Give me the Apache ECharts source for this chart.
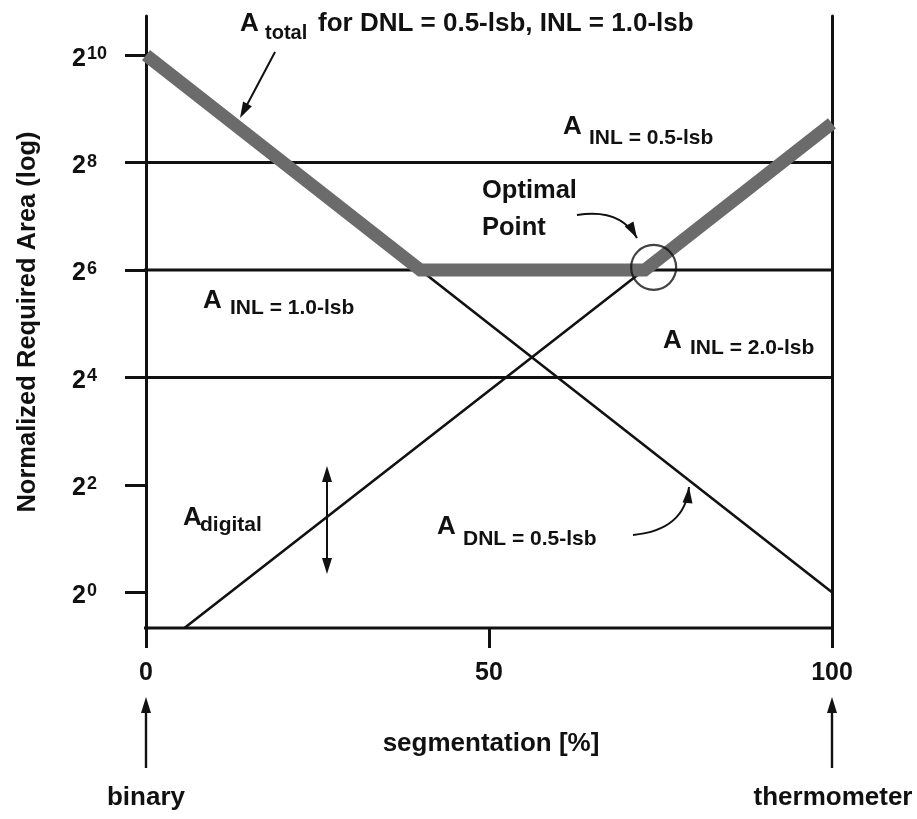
<!DOCTYPE html>
<html>
<head>
<meta charset="utf-8">
<script src="https://cdn.jsdelivr.net/npm/echarts@6/dist/echarts.min.js"></script>
<style>
  html, body { margin: 0; padding: 0; background: #fff; }
  #chart { width: 917px; height: 819px; }
</style>
</head>
<body>
<div id="chart"></div>
<script>
// Segmentation axis (%) and log2 area exponents shown on the axes
const xTicks = [0, 50, 100];
const yTickExponents = [0, 2, 4, 6, 8, 10];
const axisFloor = -0.665;   // exponent of the plot baseline
const axisCeil = 10.73;     // exponent at the top of the frame

// Area needed for a given INL spec (log2 exponent), one level per spec
const inlLevels = [8, 6, 4];
// Area set by DNL = 0.5 lsb: falls linearly from binary to thermometer
const dnlLine = [[0, 10], [100, 0]];
// Digital decoder area, grows with segmentation
const digitalLine = [[5.6, -0.665], [100, 8.73]];
// Total area for DNL = 0.5 lsb, INL = 1.0 lsb
const totalLine = [[0, 10], [40, 6], [72.7, 6], [100, 8.73]];
// Optimal segmentation
const optimalPoint = [74, 6.05];

const FONT = 'Liberation Sans, Arial, Helvetica, sans-serif';
const INK = '#111';
const chart = echarts.init(document.getElementById('chart'), null, { renderer: 'canvas' });

const thin = { color: INK, width: 3 };

const series = [];
// Horizontal INL levels, starting at the tick marks left of the frame
inlLevels.forEach(v => {
  series.push({
    type: 'line', data: [[-3.06, v], [100, v]], symbol: 'none', clip: false,
    lineStyle: thin, silent: true, z: 2
  });
});
// Plot baseline
series.push({
  type: 'line', data: [[-3.06, axisFloor], [100, axisFloor]], symbol: 'none', clip: false,
  lineStyle: thin, silent: true, z: 2
});
series.push({ type: 'line', data: dnlLine, symbol: 'none', clip: false, lineStyle: { color: INK, width: 2.6 }, z: 2 });
series.push({ type: 'line', data: digitalLine, symbol: 'none', clip: false, lineStyle: { color: INK, width: 2.6 }, z: 2 });
series.push({
  type: 'line', data: totalLine, symbol: 'none', clip: false,
  lineStyle: { color: '#6b6b6b', width: 13, cap: 'butt', join: 'miter' }, z: 3
});
series.push({
  type: 'scatter', data: [optimalPoint], symbol: 'circle', symbolSize: 45, clip: false,
  itemStyle: { color: 'rgba(0,0,0,0)', borderColor: INK, borderWidth: 2.2 }, z: 4, silent: true
});

// ---- annotation helpers ----
function txt(x, y, text, size, align) {
  return {
    type: 'text', x, y, z: 10,
    style: { text, fill: INK, font: `bold ${size}px ${FONT}`, align: align || 'left', verticalAlign: 'middle' }
  };
}
function head(tx, ty, dx, dy, len, half) {
  const n = Math.hypot(dx, dy); const ux = dx / n, uy = dy / n;
  const bx = tx - ux * len, by = ty - uy * len;
  return {
    type: 'polygon', z: 10,
    shape: { points: [[tx, ty], [bx - uy * half, by + ux * half], [bx + uy * half, by - ux * half]] },
    style: { fill: INK }
  };
}
function straightArrow(x1, y1, x2, y2, w) {
  const n = Math.hypot(x2 - x1, y2 - y1);
  const ex = x2 - (x2 - x1) / n * 8, ey = y2 - (y2 - y1) / n * 8;
  return [
    { type: 'line', z: 10, shape: { x1, y1, x2: ex, y2: ey }, style: { stroke: INK, lineWidth: w || 2 } },
    head(x2, y2, x2 - x1, y2 - y1, 16, 5)
  ];
}
function curvedArrow(x1, y1, cx, cy, x2, y2) {
  return [
    { type: 'bezierCurve', z: 10, shape: { x1, y1, cpx1: cx, cpy1: cy, x2, y2 }, style: { stroke: INK, lineWidth: 2, fill: 'none' } },
    head(x2, y2, x2 - cx, y2 - cy, 16, 5)
  ];
}

const graphic = [
  // headline label and its pointer
  txt(240, 24, 'A', 26), txt(265, 33, 'total', 20), txt(318, 24, 'for DNL = 0.5-lsb, INL = 1.0-lsb', 26),
  ...straightArrow(275, 52, 240, 118),
  // INL levels
  txt(563, 127, 'A', 26), txt(589, 138, 'INL = 0.5-lsb', 21),
  txt(203, 301, 'A', 26), txt(230, 308, 'INL = 1.0-lsb', 21),
  txt(663, 341, 'A', 26), txt(690, 348, 'INL = 2.0-lsb', 21),
  // digital area with its span arrow
  txt(183, 518, 'A', 26), txt(200, 525, 'digital', 21),
  ...straightArrow(327, 520, 327, 466), ...straightArrow(327, 520, 327, 574),
  // DNL line label
  txt(437, 527, 'A', 26), txt(463, 539, 'DNL = 0.5-lsb', 21),
  ...curvedArrow(633, 535, 685, 530, 689, 487),
  // optimal point
  txt(482, 191, 'Optimal', 25.5), txt(482, 228, 'Point', 25.5),
  ...curvedArrow(577, 215, 620, 208, 637, 238),
  // axis title and end labels
  txt(491, 744, 'segmentation [%]', 26, 'center'),
  ...straightArrow(146, 768, 146, 697, 2.4), ...straightArrow(832, 768, 832, 697, 2.4),
  txt(146, 798, 'binary', 26, 'center'),
  txt(833, 798, 'thermometer', 26, 'center')
];

chart.setOption({
  animation: false,
  backgroundColor: '#fff',
  grid: { left: 146, right: 85, top: 16, bottom: 191, containLabel: false, outerBoundsMode: 'none' },
  xAxis: {
    type: 'value', min: 0, max: 100,
    axisLine: { show: false, onZero: false },
    splitLine: { show: false },
    axisTick: { show: true, customValues: xTicks, length: 20, inside: false, lineStyle: { color: INK, width: 3 } },
    axisLabel: { customValues: xTicks, margin: 33, color: INK, fontFamily: FONT, fontWeight: 'bold', fontSize: 25 }
  },
  yAxis: [{
    type: 'value', min: axisFloor, max: axisCeil, position: 'left',
    name: 'Normalized Required Area (log)', nameLocation: 'middle', nameRotate: 90, nameGap: 105,
    nameTextStyle: { color: INK, fontFamily: FONT, fontWeight: 'bold', fontSize: 25.5 },
    axisLine: { show: true, onZero: false, lineStyle: { color: INK, width: 3 } },
    splitLine: { show: false },
    axisTick: { show: true, customValues: yTickExponents, length: 21, lineStyle: { color: INK, width: 3 } },
    axisLabel: {
      customValues: yTickExponents, align: 'left', margin: 74, padding: [6, 0, 0, 0],
      formatter: v => `{b|2}{s|${v}}`,
      rich: {
        b: { fontFamily: FONT, fontWeight: 'bold', fontSize: 25, color: INK, lineHeight: 26, verticalAlign: 'bottom' },
        s: { fontFamily: FONT, fontWeight: 'bold', fontSize: 18, color: INK, lineHeight: 12, verticalAlign: 'top', padding: [0, 0, 0, 1] }
      }
    }
  }, {
    type: 'value', min: axisFloor, max: axisCeil, position: 'right',
    axisLine: { show: true, onZero: false, lineStyle: { color: INK, width: 3 } },
    axisTick: { show: false }, axisLabel: { show: false }, splitLine: { show: false }
  }],
  series,
  graphic
});
</script>
</body>
</html>
